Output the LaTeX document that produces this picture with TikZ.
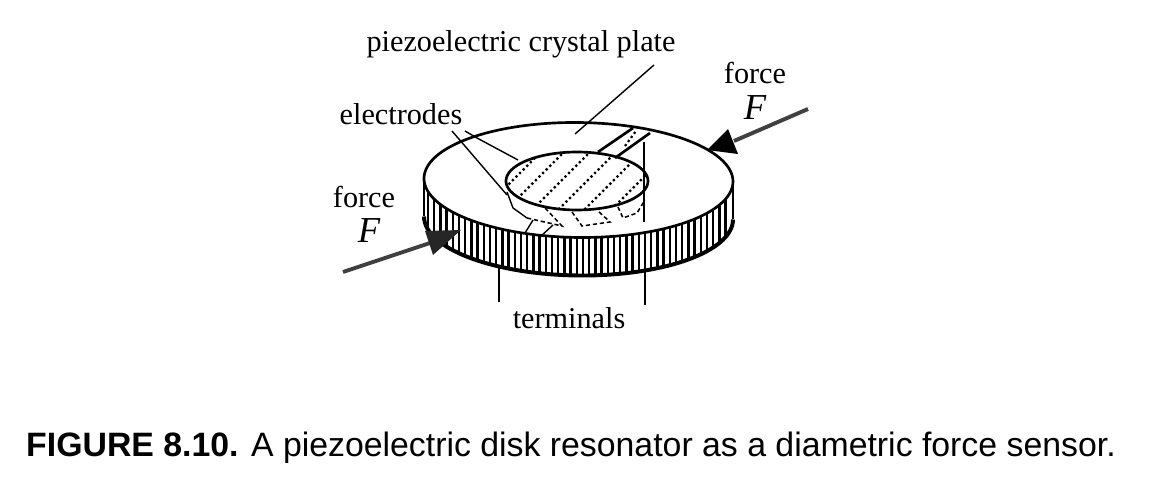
\documentclass[tikz,border=0pt]{standalone}
\usepackage{fontspec}
\setmainfont{Liberation Serif}
\newfontfamily\capfont{Liberation Sans}
\usepackage{pgf,tikz}

\tikzset{
  edge line/.style={line width=1.9pt},
  foot line/.style={line width=2.8pt},
  thin line/.style={line width=1pt},
  hatch line/.style={line width=1.6pt},
  electrode hatch/.style={line width=1.6pt, dotted},
  under line/.style={line width=1.1pt, densely dashed},
  force line/.style={line width=2.8pt, black!75},
  label text/.style={font=\fontsize{21.5}{24}\selectfont, inner sep=0pt},
  force symbol/.style={font=\fontsize{26}{28}\selectfont\itshape, inner sep=0pt},
}

\begin{document}
\begin{tikzpicture}[x=0.025cm, y=0.025cm]
\useasboundingbox (0,0) rectangle (1153,-484);

% Labels
\node[label text] (plate) at (521,-44) {piezoelectric crystal plate};
\node[label text] (electrodes) at (401,-114) {electrodes};
\node[label text] (forceR) at (755,-73) {force};
\node[force symbol] (symR) at (755,-108) {F};
\node[label text] (forceL) at (364,-197) {force};
\node[force symbol] (symL) at (369,-231) {F};
\node[label text] (terminals) at (569,-318) {terminals};
\node[inner sep=0pt, font=\fontsize{24.05}{26}\capfont] (caption) at (571,-448) {\textbf{FIGURE 8.10.} A piezoelectric disk resonator as a diametric force sensor.};

% Side of the disk
\foreach \x in {428,434.2,...,731} {
  \pgfmathsetmacro{\t}{sqrt(1-((\x-578.5)/154.5)^2)}
  \pgfmathsetmacro{\yy}{-180-57.5*\t-0.0097*(\x-578.5)}
  \draw [hatch line] (\x,\yy) -- (\x,\yy-38);
}
\draw [foot line, domain=180:360, samples=70] plot ({578.5+154.5*cos(\x)}, {-180+57.5*sin(\x)-1.5*cos(\x)-38});
\draw [edge line] (424,-178.5) -- (424,-216.5);
\draw [edge line] (733,-181.5) -- (733,-219.5);

% Top of the disk
\draw [edge line, domain=0:360, samples=120] plot ({578.5+154.5*cos(\x)}, {-180+57.5*sin(\x)-1.5*cos(\x)});

% Lower electrode, seen through the plate
\draw [thin line] (507,-192) -- (513,-208) -- (527,-218);
\draw [under line] (527,-218) -- (562,-226) -- (545,-208);
\draw [under line] (572,-212) -- (582,-226) -- (610,-222) -- (597,-210);
\draw [under line] (618,-207) -- (623,-218) -- (637,-213) -- (645,-200);

% Upper electrode
\begin{scope}
\clip [domain=0:360, samples=60] plot ({577+71*cos(\x)}, {-181+29*sin(\x)});
\foreach \h in {512,535,561,587,613,640} {
  \draw [electrode hatch] (\h-50,-231) -- (\h+50,-131);
}
\end{scope}
\draw [edge line, domain=0:360, samples=80] plot ({577+71*cos(\x)}, {-181+29*sin(\x)});

% Strips out to the rim
\coordinate (stripA) at (598,-152);
\coordinate (stripB) at (633,-128);
\coordinate (stripC) at (615,-158);
\coordinate (stripD) at (650,-133);
\coordinate (stripE) at (625,-146);
\coordinate (stripF) at (636,-131);
\draw [edge line] (stripA) -- (stripB);
\draw [edge line] (stripC) -- (stripD);
\draw [electrode hatch] (stripE) -- (stripF);
\coordinate (stripG) at (533,-220);
\coordinate (stripH) at (525,-233);
\coordinate (stripI) at (553,-225);
\coordinate (stripJ) at (540,-237);
\draw [thin line] (stripG) -- (stripH);
\draw [thin line] (stripI) -- (stripJ);

% Leaders
\coordinate (plateA) at (654,-65);
\coordinate (plateB) at (575,-134);
\draw [thin line] (plateA) -- (plateB);
\coordinate (elecA) at (452,-131);
\coordinate (elecB) at (507,-195);
\coordinate (elecC) at (465,-131);
\coordinate (elecD) at (477,-138);
\coordinate (elecE) at (518,-160);
\draw [thin line] (elecA) -- (elecB);
\draw [thin line] (elecC) -- (elecD) -- (elecE);
\coordinate (rimA) at (644,-142);
\coordinate (rimB) at (644,-222);
\draw [thin line] (rimA) -- (rimB);

% Terminals
\coordinate (termA) at (499,-266);
\coordinate (termB) at (499,-302);
\coordinate (termC) at (645,-267);
\coordinate (termD) at (645,-305);
\draw [edge line] (termA) -- (termB);
\draw [edge line] (termC) -- (termD);

% Forces
\coordinate (pushR) at (808,-109);
\coordinate (headR) at (734,-141);
\coordinate (pushL) at (343,-272);
\coordinate (headL) at (430,-243);
\draw [force line] (pushR) -- (headR);
\draw [force line] (pushL) -- (headL);
\fill (707,-150) -- (728,-129) -- (738,-154) -- cycle;
\fill [black!85] (461,-230) -- (425,-231) -- (433,-255) -- cycle;
\end{tikzpicture}
\end{document}
